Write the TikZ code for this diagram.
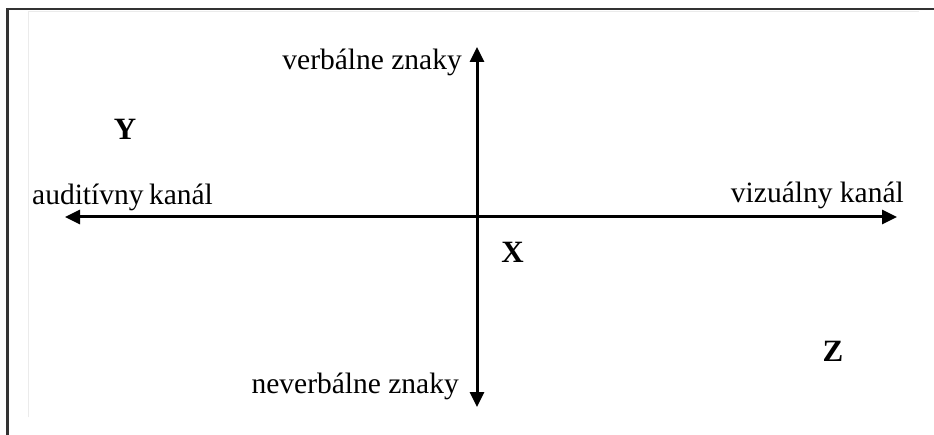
\documentclass[tikz,border=0pt]{standalone}
\usepackage{fontspec}
\setmainfont{Liberation Serif}
\usetikzlibrary{arrows.meta}
\begin{document}
\begin{tikzpicture}[x=1pt,y=-1pt,
  lbl/.style={inner sep=0pt,font=\fontsize{29.5}{35}\selectfont},
  letter/.style={inner sep=0pt,font=\fontsize{31}{36}\selectfont\bfseries},
  axis/.style={line width=3pt,{Triangle[length=15pt,width=14pt]}-{Triangle[length=15pt,width=14pt]}}]
\useasboundingbox (0,0) rectangle (934,435);
\fill[white] (0,0) rectangle (934,435);
% frame
\draw[black!80,line width=2.5pt] (7.5,435) -- (7.5,9) -- (934,9);
\draw[black!8,line width=0.8pt] (28.5,417) -- (28.5,11.5) -- (919,11.5);
% axes
\coordinate (L) at (65,217);
\coordinate (R) at (897,217);
\coordinate (T) at (477,47);
\coordinate (B) at (477,407);
\draw[axis] (L) -- (R);
\draw[axis] (T) -- (B);
% labels
\node[lbl,anchor=base east] (verb) at (462,70) {verbálne znaky};
\node[lbl,anchor=base east] (never) at (459,393) {neverbálne znaky};
\node[lbl,anchor=base west] (aud) at (32,205) {auditívny\hspace{-2pt} kanál};
\node[lbl,anchor=base east] (viz) at (904,203) {vizuálny kanál};
\node[letter,anchor=base] (Y) at (125,140) {Y};
\node[letter,anchor=base] (X) at (512.5,263) {X};
\node[letter,anchor=base] (Z) at (833,362) {Z};
\end{tikzpicture}
\end{document}
